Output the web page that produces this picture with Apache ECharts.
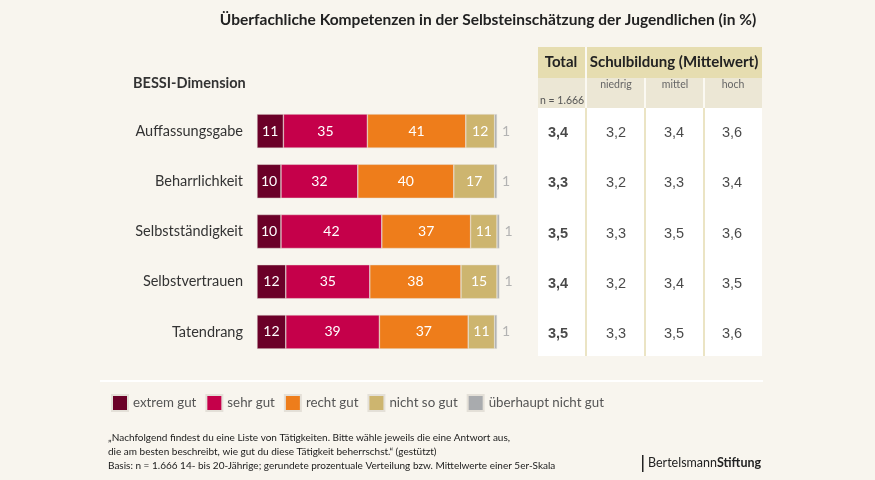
<!DOCTYPE html>
<html><head><meta charset="utf-8">
<script src="https://cdn.jsdelivr.net/npm/echarts@6/dist/echarts.min.js"></script>
<style>html,body{margin:0;padding:0;background:#f8f5ee}#c{width:875px;height:480px}</style>
</head><body><div id="c"></div>
<script>
const categories = ['Auffassungsgabe','Beharrlichkeit','Selbstständigkeit','Selbstvertrauen','Tatendrang'];
const seriesNames = ['extrem gut','sehr gut','recht gut','nicht so gut','überhaupt nicht gut'];
const extremGut = [11,10,10,12,12];
const sehrGut = [35,32,42,35,39];
const rechtGut = [41,40,37,38,37];
const nichtSoGut = [12,17,11,15,11];
const ueberhauptNicht = [1,1,1,1,1];
const tableColumns = ['Total','niedrig','mittel','hoch'];
const total = [3.4,3.3,3.5,3.4,3.5];
const niedrig = [3.2,3.2,3.3,3.2,3.3];
const mittel = [3.4,3.3,3.5,3.4,3.5];
const hoch = [3.6,3.4,3.6,3.5,3.6];

const colors = ['#6b0028','#c5004a','#ee7d1b','#cdb56f','#a9abae'];
const FONT = 'Lato, "Open Sans", sans-serif';
const barData = [extremGut,sehrGut,rechtGut,nichtSoGut,ueberhauptNicht];

const chart = echarts.init(document.getElementById('c'), null, {renderer:'canvas'});

const barSeries = barData.map((arr,i)=>({
  name: seriesNames[i], type:'bar', stack:'s', xAxisIndex:0, yAxisIndex:0,
  barWidth:34, data: arr,
  itemStyle:{color:colors[i], borderColor:'#e4e0d8', borderWidth:0.5},
  label: i<4 ? {show:true, position:'inside', color:'#fff', fontSize:14, fontFamily:FONT}
             : {show:true, position:'right', distance:5, color:'#b3b3b3', fontSize:14, fontFamily:FONT},
  emphasis:{disabled:true}
}));

function tableSeries(arr, colIdx, bold){
  return {type:'scatter', xAxisIndex:1, yAxisIndex:1, symbolSize:0,
    data: arr.map((v,r)=>[tableColumns[colIdx], categories[r], v]),
    label:{show:true, position:'inside', formatter:p=>p.value[2].toFixed(1).replace('.',','),
      color:'#1a1a1a', fontSize:14.5, fontWeight: bold?'bold':'normal', fontFamily:'Arial, "Liberation Sans", sans-serif'},
    silent:true};
}

const hdr1 = '#e6ddb0', hdr2 = '#ece7d5', sep = '#ebe4c4';

chart.setOption({
  backgroundColor:'#f8f5ee',
  animation:false,
  title:{text:'Überfachliche Kompetenzen in der Selbsteinschätzung der Jugendlichen (in %)',
    left:483, top:7, textAlign:'center',
    textStyle:{fontSize:15.5, fontWeight:'bold', color:'#222', fontFamily:FONT}},
  legend:{data:seriesNames, left:111, top:394, padding:0, itemWidth:16, itemHeight:16, itemGap:9,
    icon:'rect', textStyle:{fontSize:13.3, color:'#555', fontFamily:FONT}},
  grid:[
    {left:257, top:106, width:252, height:251, containLabel:false},
    {left:529, top:108, width:232, height:251, containLabel:false}
  ],
  xAxis:[
    {type:'value', min:0, max:105, show:false, gridIndex:0},
    {type:'category', data:tableColumns, show:false, gridIndex:1}
  ],
  yAxis:[
    {type:'category', data:categories, inverse:true, gridIndex:0,
      axisLine:{show:false}, axisTick:{show:false}, splitLine:{show:false},
      axisLabel:{margin:14, fontSize:14.5, color:'#333', fontFamily:FONT}},
    {type:'category', data:categories, inverse:true, gridIndex:1, show:false}
  ],
  graphic:[
    {type:'rect', z:-1, shape:{x:538,y:47,width:224,height:31}, style:{fill:hdr1}},
    {type:'rect', z:-1, shape:{x:538,y:78,width:224,height:30}, style:{fill:hdr2}},
    {type:'rect', z:-1, shape:{x:538,y:108,width:224,height:248}, style:{fill:'#ffffff'}},
    {type:'rect', z:0, shape:{x:585,y:47,width:2,height:61}, style:{fill:'#fbf9f2'}},
    {type:'rect', z:0, shape:{x:644,y:78,width:2,height:30}, style:{fill:'#fbf9f2'}},
    {type:'rect', z:0, shape:{x:703,y:78,width:2,height:30}, style:{fill:'#fbf9f2'}},
    {type:'rect', z:0, shape:{x:585,y:108,width:2,height:248}, style:{fill:sep}},
    {type:'rect', z:0, shape:{x:644,y:108,width:2,height:248}, style:{fill:sep}},
    {type:'rect', z:0, shape:{x:703,y:108,width:2,height:248}, style:{fill:sep}},
    {type:'text', left:133, top:76, style:{text:'BESSI-Dimension', fontSize:14.5, fontWeight:'bold', fill:'#333', fontFamily:FONT}},
    {type:'text', x:561, y:62, style:{text:'Total', fontSize:15, fontWeight:'bold', fill:'#222', fontFamily:FONT, align:'center', verticalAlign:'middle'}},
    {type:'text', x:674, y:62, style:{text:'Schulbildung (Mittelwert)', fontSize:15, fontWeight:'bold', fill:'#222', fontFamily:FONT, align:'center', verticalAlign:'middle'}},
    {type:'text', x:616, y:85, style:{text:'niedrig', fontSize:10.5, fill:'#666', fontFamily:FONT, align:'center', verticalAlign:'middle'}},
    {type:'text', x:675, y:85, style:{text:'mittel', fontSize:10.5, fill:'#666', fontFamily:FONT, align:'center', verticalAlign:'middle'}},
    {type:'text', x:733, y:85, style:{text:'hoch', fontSize:10.5, fill:'#666', fontFamily:FONT, align:'center', verticalAlign:'middle'}},
    {type:'text', x:540, y:101, style:{text:'n = 1.666', fontSize:10.5, fill:'#555', fontFamily:FONT, verticalAlign:'middle'}},
    {type:'rect', shape:{x:100,y:380,width:663,height:2}, style:{fill:'#ffffff'}},
    {type:'text', left:108, top:431, style:{text:'„Nachfolgend findest du eine Liste von Tätigkeiten. Bitte wähle jeweils die eine Antwort aus,\ndie am besten beschreibt, wie gut du diese Tätigkeit beherrschst.“ (gestützt)\nBasis: n = 1.666 14- bis 20-Jährige; gerundete prozentuale Verteilung bzw. Mittelwerte einer 5er-Skala',
      fontSize:10, lineHeight:14, fill:'#1a1a1a', fontFamily:FONT}},
    {type:'rect', shape:{x:642,y:455,width:1.5,height:17}, style:{fill:'#222'}},
    {type:'text', left:648, top:456, style:{text:'{a|Bertelsmann}{b|Stiftung}',
      rich:{a:{fontSize:12.5, fill:'#222', fontFamily:FONT}, b:{fontSize:12.5, fontWeight:'bold', fill:'#222', fontFamily:FONT}}}}
  ],
  series:[...barSeries,
    tableSeries(total,0,true), tableSeries(niedrig,1,false), tableSeries(mittel,2,false), tableSeries(hoch,3,false)]
});
</script></body></html>
